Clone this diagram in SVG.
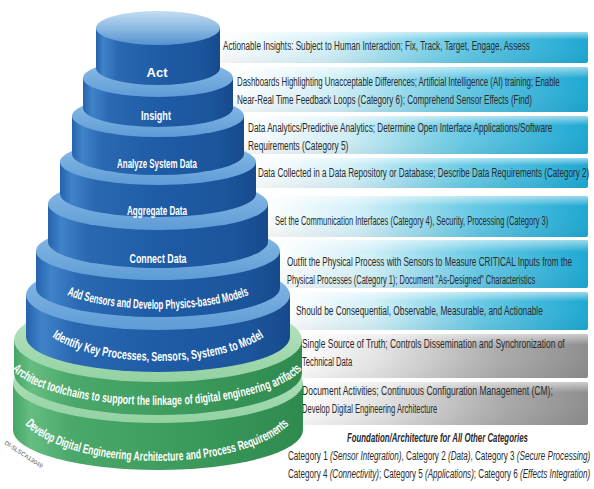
<svg xmlns="http://www.w3.org/2000/svg" xmlns:xlink="http://www.w3.org/1999/xlink" width="594" height="489" viewBox="0 0 594 489">
  <defs>
    <linearGradient id="bandCyan" x1="0" y1="0" x2="1" y2="0">
      <stop offset="0" stop-color="#ffffff"/>
      <stop offset="0.3" stop-color="#d2f0f8"/>
      <stop offset="0.65" stop-color="#66c9e5"/>
      <stop offset="1" stop-color="#1ea8d3"/>
    </linearGradient>
    <linearGradient id="bandGray" x1="0" y1="0" x2="1" y2="0">
      <stop offset="0" stop-color="#ffffff"/>
      <stop offset="0.3" stop-color="#e2e2e2"/>
      <stop offset="0.7" stop-color="#acacac"/>
      <stop offset="1" stop-color="#8e8e8e"/>
    </linearGradient>
    <linearGradient id="bandSheen" x1="0" y1="0" x2="0" y2="1">
      <stop offset="0" stop-color="#ffffff" stop-opacity="0.55"/>
      <stop offset="0.25" stop-color="#ffffff" stop-opacity="0"/>
      <stop offset="1" stop-color="#000000" stop-opacity="0.05"/>
    </linearGradient>
    <linearGradient id="blueBody" x1="0" y1="0" x2="1" y2="0">
      <stop offset="0" stop-color="#2563ad"/>
      <stop offset="0.06" stop-color="#3f83c8"/>
      <stop offset="0.18" stop-color="#2a68b2"/>
      <stop offset="0.5" stop-color="#1f5ca6"/>
      <stop offset="0.85" stop-color="#1b559c"/>
      <stop offset="1" stop-color="#174a8c"/>
    </linearGradient>
    <linearGradient id="blueRim" x1="0" y1="0" x2="0" y2="1">
      <stop offset="0" stop-color="#8fbfe8"/>
      <stop offset="1" stop-color="#5e9cd6"/>
    </linearGradient>
    <linearGradient id="actTop" x1="0" y1="0" x2="0" y2="1">
      <stop offset="0" stop-color="#c4ddf2"/>
      <stop offset="0.55" stop-color="#86b6e1"/>
      <stop offset="1" stop-color="#5592cf"/>
    </linearGradient>
    <linearGradient id="greenBody" x1="0" y1="0" x2="1" y2="0">
      <stop offset="0" stop-color="#45a566"/>
      <stop offset="0.06" stop-color="#66bd82"/>
      <stop offset="0.2" stop-color="#4aa86a"/>
      <stop offset="0.6" stop-color="#3b9a5c"/>
      <stop offset="1" stop-color="#2f8a4f"/>
    </linearGradient>
    <linearGradient id="greenRim" x1="0" y1="0" x2="0" y2="1">
      <stop offset="0" stop-color="#c0e8c8"/>
      <stop offset="1" stop-color="#93d1a2"/>
    </linearGradient>
    <!-- curved baselines for the labels on the wider lower tiers -->
    <path id="arcSensors" d="M 38 269 A 120 40 0 0 0 278 269"/>
    <path id="arcIdentify" d="M 33 310 A 125 51 0 0 0 283 310"/>
    <path id="arcToolchains" d="M 7 357 A 150 48 0 0 0 307 357"/>
    <path id="arcDevelop" d="M 17 406 A 140 55 0 0 0 297 406"/>
  </defs>
  <style>
    .band-c { fill: url(#bandCyan); }
    .band-g { fill: url(#bandGray); }
    .sheen { fill: url(#bandSheen); }
    .note { font-family: "Liberation Sans", Arial, sans-serif; font-size: 12.5px; fill: #2a2a2a; }
    .it { font-style: italic; }
    .tier { font-family: "Liberation Sans", Arial, sans-serif; font-size: 13px; font-weight: bold; fill: #ffffff; }
    .body-b { fill: url(#blueBody); }
    .rim-b { fill: url(#blueRim); }
    .body-g { fill: url(#greenBody); }
    .rim-g { fill: url(#greenRim); }
  </style>

  <rect width="594" height="489" fill="#ffffff"/>

  <!-- annotation bands; notes use a condensed face (horizontal scale 0.66) -->
  <g id="band-act">
    <rect class="band-c" x="216" y="32" width="372" height="31" rx="2"/>
    <rect class="sheen" x="216" y="32" width="372" height="31" rx="2"/>
    <text class="note" transform="translate(223 49.5) scale(0.66 1)" textLength="465" lengthAdjust="spacingAndGlyphs">Actionable Insights: Subject to Human Interaction; Fix, Track, Target, Engage, Assess</text>
  </g>
  <g id="band-insight">
    <rect class="band-c" x="228" y="67" width="360" height="45" rx="2"/>
    <rect class="sheen" x="228" y="67" width="360" height="45" rx="2"/>
    <text class="note" transform="translate(237 86) scale(0.66 1)" textLength="489" lengthAdjust="spacingAndGlyphs">Dashboards Highlighting Unacceptable Differences; Artificial Intelligence (AI) training; Enable</text>
    <text class="note" transform="translate(237 104) scale(0.66 1)" textLength="447" lengthAdjust="spacingAndGlyphs">Near-Real Time Feedback Loops (Category 6); Comprehend Sensor Effects (Find)</text>
  </g>
  <g id="band-analyze">
    <rect class="band-c" x="240" y="116" width="348" height="38" rx="2"/>
    <rect class="sheen" x="240" y="116" width="348" height="38" rx="2"/>
    <text class="note" transform="translate(248 131.5) scale(0.66 1)" textLength="461" lengthAdjust="spacingAndGlyphs">Data Analytics/Predictive Analytics; Determine Open Interface Applications/Software</text>
    <text class="note" transform="translate(248 149.5) scale(0.66 1)" textLength="152" lengthAdjust="spacingAndGlyphs">Requirements (Category 5)</text>
  </g>
  <g id="band-aggregate">
    <rect class="band-c" x="250" y="158" width="338" height="30" rx="2"/>
    <rect class="sheen" x="250" y="158" width="338" height="30" rx="2"/>
    <text class="note" transform="translate(258 176.5) scale(0.66 1)" textLength="502" lengthAdjust="spacingAndGlyphs">Data Collected in a Data Repository or Database; Describe Data Requirements (Category 2)</text>
  </g>
  <g id="band-connect">
    <rect class="band-c" x="262" y="196" width="326" height="41" rx="2"/>
    <rect class="sheen" x="262" y="196" width="326" height="41" rx="2"/>
    <text class="note" transform="translate(275 224.5) scale(0.66 1)" textLength="414" lengthAdjust="spacingAndGlyphs">Set the Communication Interfaces (Category 4), Security, Processing (Category 3)</text>
  </g>
  <g id="band-sensors">
    <rect class="band-c" x="274" y="240" width="314" height="48" rx="2"/>
    <rect class="sheen" x="274" y="240" width="314" height="48" rx="2"/>
    <text class="note" transform="translate(287 266) scale(0.66 1)" textLength="432" lengthAdjust="spacingAndGlyphs">Outfit the Physical Process with Sensors to Measure CRITICAL Inputs from the</text>
    <text class="note" transform="translate(287 284) scale(0.66 1)" textLength="376" lengthAdjust="spacingAndGlyphs">Physical Processes (Category 1); Document "As-Designed" Characteristics</text>
  </g>
  <g id="band-identify">
    <rect class="band-c" x="284" y="292" width="304" height="38" rx="2"/>
    <rect class="sheen" x="284" y="292" width="304" height="38" rx="2"/>
    <text class="note" transform="translate(296 314.5) scale(0.66 1)" textLength="374" lengthAdjust="spacingAndGlyphs">Should be Consequential, Observable, Measurable, and Actionable</text>
  </g>
  <g id="band-toolchains">
    <rect class="band-g" x="296" y="334" width="292" height="44" rx="2"/>
    <rect class="sheen" x="296" y="334" width="292" height="44" rx="2"/>
    <text class="note" transform="translate(302 347.5) scale(0.66 1)" textLength="398" lengthAdjust="spacingAndGlyphs">Single Source of Truth; Controls Dissemination and Synchronization of</text>
    <text class="note" transform="translate(302 366) scale(0.66 1)" textLength="76" lengthAdjust="spacingAndGlyphs">Technical Data</text>
  </g>
  <g id="band-develop">
    <rect class="band-g" x="296" y="382" width="292" height="43" rx="2"/>
    <rect class="sheen" x="296" y="382" width="292" height="43" rx="2"/>
    <text class="note" transform="translate(302 394.5) scale(0.66 1)" textLength="380" lengthAdjust="spacingAndGlyphs">Document Activities; Continuous Configuration Management (CM);</text>
    <text class="note" transform="translate(302 412.5) scale(0.66 1)" textLength="205" lengthAdjust="spacingAndGlyphs">Develop Digital Engineering Architecture</text>
  </g>

  <!-- category key -->
  <g id="category-key">
    <text class="note" transform="translate(347 441.5) scale(0.66 1)" font-weight="bold" font-style="italic" textLength="274" lengthAdjust="spacingAndGlyphs">Foundation/Architecture for All Other Categories</text>
    <text class="note" transform="translate(288 459.5) scale(0.66 1)" textLength="458" lengthAdjust="spacingAndGlyphs">Category 1 <tspan class="it">(Sensor Integration)</tspan>, Category 2 <tspan class="it">(Data)</tspan>, Category 3 <tspan class="it">(Secure Processing)</tspan></text>
    <text class="note" transform="translate(288 477.5) scale(0.66 1)" textLength="458" lengthAdjust="spacingAndGlyphs">Category 4 <tspan class="it">(Connectivity)</tspan>; Category 5 <tspan class="it">(Applications)</tspan>; Category 6 <tspan class="it">(Effects Integration)</tspan></text>
  </g>

  <!-- stacked tiers, drawn bottom-up so each upper tier overlaps the one below -->
  <g id="tier-develop">
    <path class="body-g" d="M 13 383 L 13 430 A 145 40 0 0 0 303 430 L 303 383 Z"/>
    <ellipse class="rim-g" cx="158" cy="383" rx="145" ry="40"/>
  </g>
  <g id="tier-toolchains">
    <path class="body-g" d="M 14 340 L 14 373 A 144 42 0 0 0 302 373 L 302 340 Z"/>
    <ellipse class="rim-g" cx="158" cy="340" rx="144" ry="42"/>
  </g>
  <g id="tier-identify">
    <path class="body-b" d="M 26 295 L 26 337 A 132 35 0 0 0 290 337 L 290 295 Z"/>
    <ellipse class="rim-b" cx="158" cy="295" rx="132" ry="35"/>
  </g>
  <g id="tier-sensors">
    <path class="body-b" d="M 36 251 L 36 288 A 122 29 0 0 0 280 288 L 280 251 Z"/>
    <ellipse class="rim-b" cx="158" cy="251" rx="122" ry="29"/>
  </g>
  <g id="tier-connect">
    <path class="body-b" d="M 48 204 L 48 242 A 110 26 0 0 0 268 242 L 268 204 Z"/>
    <ellipse class="rim-b" cx="158" cy="204" rx="110" ry="26"/>
    <text class="tier" transform="translate(158 262.5) scale(0.6 1)" text-anchor="middle" textLength="95" lengthAdjust="spacingAndGlyphs">Connect Data</text>
  </g>
  <g id="tier-aggregate">
    <path class="body-b" d="M 60 162 L 60 194 A 98 23 0 0 0 256 194 L 256 162 Z"/>
    <ellipse class="rim-b" cx="158" cy="162" rx="98" ry="23"/>
    <text class="tier" transform="translate(157 214.5) scale(0.6 1)" text-anchor="middle" textLength="100" lengthAdjust="spacingAndGlyphs">Aggregate Data</text>
  </g>
  <g id="tier-analyze">
    <path class="body-b" d="M 72 116 L 72 154 A 86 21 0 0 0 244 154 L 244 116 Z"/>
    <ellipse class="rim-b" cx="158" cy="116" rx="86" ry="21"/>
    <text class="tier" transform="translate(157 167.5) scale(0.6 1)" text-anchor="middle" textLength="133" lengthAdjust="spacingAndGlyphs">Analyze System Data</text>
  </g>
  <g id="tier-insight">
    <path class="body-b" d="M 83 78 L 83 108 A 75 19 0 0 0 233 108 L 233 78 Z"/>
    <ellipse class="rim-b" cx="158" cy="78" rx="75" ry="19"/>
    <text class="tier" transform="translate(156 119.5) scale(0.6 1)" text-anchor="middle" textLength="50" lengthAdjust="spacingAndGlyphs">Insight</text>
  </g>
  <g id="tier-act">
    <path class="body-b" d="M 96 28 L 96 68 A 62 17 0 0 0 220 68 L 220 28 Z"/>
    <ellipse cx="158" cy="28" rx="62" ry="17" fill="url(#actTop)"/>
    <text class="tier" transform="translate(157 76.5) scale(0.6 1)" text-anchor="middle" textLength="35" lengthAdjust="spacingAndGlyphs">Act</text>
  </g>

  <!-- curved labels on the lower tiers -->
  <text class="tier"><textPath href="#arcSensors" startOffset="50%" text-anchor="middle" textLength="185" lengthAdjust="spacingAndGlyphs">Add Sensors and Develop Physics-based Models</textPath></text>
  <text class="tier"><textPath href="#arcIdentify" startOffset="50%" text-anchor="middle" textLength="220" lengthAdjust="spacingAndGlyphs">Identify Key Processes, Sensors, Systems to Model</textPath></text>
  <text class="tier"><textPath href="#arcToolchains" startOffset="50%" text-anchor="middle" textLength="305" lengthAdjust="spacingAndGlyphs">Architect toolchains to support the linkage of digital engineering artifacts</textPath></text>
  <text class="tier"><textPath href="#arcDevelop" startOffset="50%" text-anchor="middle" textLength="280" lengthAdjust="spacingAndGlyphs">Develop Digital Engineering Architecture and Process Requirements</textPath></text>

  <!-- figure number -->
  <text x="4" y="444" transform="rotate(33 4 444)" font-family="'Liberation Sans', Arial, sans-serif" font-size="6" fill="#555555">DI-SLSCA13049</text>
</svg>
